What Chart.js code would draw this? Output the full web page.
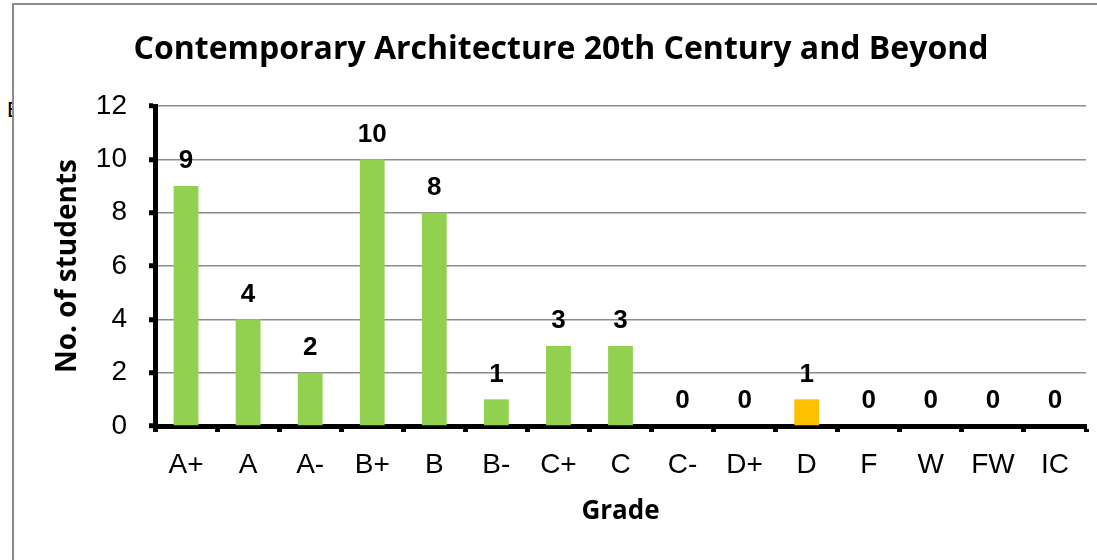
<!DOCTYPE html>
<html>
<head>
<meta charset="utf-8">
<script src="https://cdn.jsdelivr.net/npm/chart.js@4/dist/chart.umd.min.js"></script>
<style>
  html, body { margin: 0; padding: 0; background: #fff; overflow: hidden; }
  #wrap { position: relative; width: 1097px; height: 560px; }
  #frame { position: absolute; left: 12px; top: 3px; width: 1200px; height: 700px;
           border-left: 2px solid #8c8c8c; border-top: 2px solid #8c8c8c; }
  #stray { position: absolute; left: 7px; top: 99px; width: 5px; height: 22px; overflow: hidden;
           font: 22px "Liberation Sans", Arial, sans-serif; line-height: 22px; color: #000; }
  #chart { position: absolute; left: 0; top: 0; }
</style>
</head>
<body>
<div id="wrap">
  <div id="frame"></div>
  <div id="stray">E</div>
  <canvas id="chart" width="1097" height="560"></canvas>
</div>
<script>
// данные
const grades = ['A+', 'A', 'A-', 'B+', 'B', 'B-', 'C+', 'C', 'C-', 'D+', 'D', 'F', 'W', 'FW', 'IC'];
const students = [9, 4, 2, 10, 8, 1, 3, 3, 0, 0, 1, 0, 0, 0, 0];
const barColors = ['#92D050', '#92D050', '#92D050', '#92D050', '#92D050', '#92D050', '#92D050',
                   '#92D050', '#92D050', '#92D050', '#FFC000', '#92D050', '#92D050', '#92D050', '#92D050'];
const yTicks = [0, 2, 4, 6, 8, 10, 12];

const titleFont = '"Open Sans", "DejaVu Sans", sans-serif';
const tickFont = '"Liberation Sans", Arial, sans-serif';

// подписи над столбиками
const valueLabels = {
    id: 'valueLabels',
    afterDatasetsDraw(chart) {
        const ctx = chart.ctx;
        const meta = chart.getDatasetMeta(0);
        ctx.save();
        ctx.font = 'bold 26px ' + tickFont;
        ctx.fillStyle = '#000';
        ctx.textAlign = 'center';
        ctx.textBaseline = 'middle';
        meta.data.forEach((bar, i) => {
            ctx.fillText(String(students[i]), bar.x, bar.y - 25);
        });
        ctx.restore();
    }
};

function createChartConfig() {
    return {
        type: 'bar',
        data: {
            labels: grades,
            datasets: [{
                data: students,
                backgroundColor: barColors,
                borderWidth: 0,
                categoryPercentage: 1,
                barPercentage: 0.4
            }]
        },
        options: {
            responsive: false,
            animation: false,
            layout: { padding: { left: 36, right: 11, top: 0, bottom: 0 } },
            plugins: {
                legend: { display: false },
                tooltip: { enabled: false },
                title: {
                    display: true,
                    text: 'Contemporary Architecture 20th Century and Beyond',
                    color: '#000',
                    font: { family: titleFont, weight: 'bold', size: 32 },
                    padding: { top: 31, bottom: 36.6 }
                }
            },
            scales: {
                x: {
                    afterFit(scale) { scale.height = 134; },
                    border: { color: '#000', width: 5 },
                    grid: {
                        offset: true,
                        drawOnChartArea: false,
                        drawTicks: true,
                        tickLength: 6,
                        tickWidth: 5,
                        tickColor: '#000'
                    },
                    ticks: {
                        color: '#000',
                        font: { family: tickFont, size: 28 },
                        padding: 16,
                        maxRotation: 0,
                        autoSkip: false
                    },
                    title: {
                        display: true,
                        text: 'Grade',
                        color: '#000',
                        font: { family: titleFont, weight: 'bold', size: 26 },
                        padding: { top: 0, bottom: 33 }
                    }
                },
                y: {
                    min: 0,
                    max: 12,
                    afterFit(scale) { scale.width = 119; },
                    afterBuildTicks(scale) { scale.ticks = yTicks.map(v => ({ value: v })); },
                    border: { color: '#000', width: 5 },
                    grid: {
                        color: '#8c8c8c',
                        lineWidth: 1.5,
                        drawTicks: true,
                        tickLength: 6,
                        tickWidth: 5,
                        tickColor: '#000'
                    },
                    ticks: {
                        color: '#000',
                        font: { family: tickFont, size: 28 },
                        padding: 22
                    },
                    title: {
                        display: true,
                        text: 'No. of students',
                        color: '#000',
                        font: { family: titleFont, weight: 'bold', size: 28 },
                        padding: { top: 15, bottom: 0 }
                    }
                }
            }
        },
        plugins: [valueLabels]
    };
}

const chartCtx = document.getElementById('chart').getContext('2d');
const myChart = new Chart(chartCtx, createChartConfig());
</script>
</body>
</html>
